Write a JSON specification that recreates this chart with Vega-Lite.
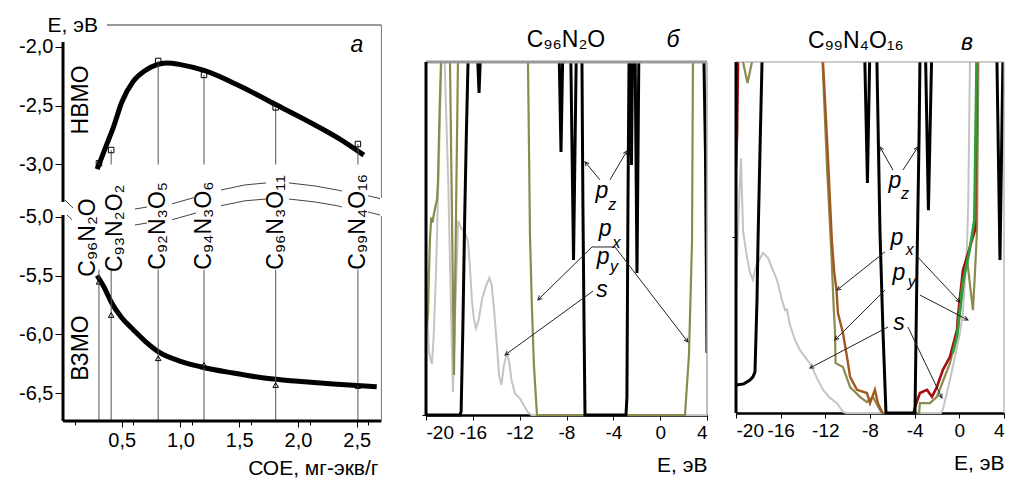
{
"$schema":"https://vega.github.io/schema/vega-lite/v6.json",
"background":"white",
"padding":{"left":18,"top":14,"right":0,"bottom":0},
"bounds":"flush",
"spacing":29,
"config":{
 "view":{"stroke":null},
 "font":"Liberation Sans",
 "locale":{"number":{"decimal":",","thousands":" ","grouping":[3],"currency":["",""],"minus":"-"}},
 "axis":{"grid":false,"labelFont":"Liberation Sans","labelFontSize":19,"labelColor":"#000","titleFont":"Liberation Sans","titleFontSize":21,"titleFontWeight":"normal","titleColor":"#000","tickColor":"#000","domainColor":"#000","labelOverlap":false}
},
"datasets":{
 "comp":[
  {"n":"C₉₆N₂O","coe":0.306,"lumo":-2.99,"homo":-5.553},
  {"n":"C₉₃N₂O₂","coe":0.41,"lumo":-2.877,"homo":-5.836},
  {"n":"C₉₂N₃O₅","coe":0.81,"lumo":-2.119,"homo":-6.204},
  {"n":"C₉₄N₃O₆","coe":1.2,"lumo":-2.238,"homo":-6.261},
  {"n":"C₉₆N₃O₁₁","coe":1.81,"lumo":-2.514,"homo":-6.432},
  {"n":"C₉₉N₄O₁₆","coe":2.51,"lumo":-2.826,"homo":-6.44}
 ],
 "upperCurve":[
  {"x":0.29,"E":-3.04},{"x":0.31,"E":-2.99},{"x":0.36,"E":-2.86},{"x":0.43,"E":-2.68},{"x":0.5,"E":-2.47},{"x":0.6,"E":-2.29},{"x":0.7,"E":-2.2},{"x":0.8,"E":-2.15},{"x":0.88,"E":-2.136},{"x":1.0,"E":-2.15},{"x":1.2,"E":-2.2},{"x":1.5,"E":-2.33},{"x":1.81,"E":-2.49},{"x":2.1,"E":-2.64},{"x":2.35,"E":-2.78},{"x":2.56,"E":-2.92}
 ],
 "lowerCurve":[
  {"x":0.29,"E":-5.5},{"x":0.35,"E":-5.6},{"x":0.41,"E":-5.725},{"x":0.5,"E":-5.86},{"x":0.6,"E":-5.963},{"x":0.7,"E":-6.06},{"x":0.81,"E":-6.148},{"x":1.0,"E":-6.23},{"x":1.17,"E":-6.276},{"x":1.45,"E":-6.33},{"x":1.73,"E":-6.375},{"x":2.0,"E":-6.4},{"x":2.3,"E":-6.423},{"x":2.67,"E":-6.446}
 ],
 "arcs":[
  {"g":"u0","x":0.017,"E":-4.857},{"g":"u0","x":0.085,"E":-4.925},
  {"g":"l0","x":0.034,"E":-4.985},{"g":"l0","x":0.077,"E":-5.025},
  {"g":"u1","x":0.613,"E":-4.934},{"g":"u1","x":0.715,"E":-4.917},
  {"g":"l1","x":0.613,"E":-5.07},{"g":"l1","x":0.715,"E":-5.053},
  {"g":"u2","x":0.928,"E":-4.89},{"g":"u2","x":1.132,"E":-4.832},
  {"g":"l2","x":0.928,"E":-5.025},{"g":"l2","x":1.132,"E":-4.968},
  {"g":"u3","x":1.345,"E":-4.772},{"g":"u3","x":1.549,"E":-4.729},{"g":"u3","x":1.728,"E":-4.712},
  {"g":"l3","x":1.345,"E":-4.906},{"g":"l3","x":1.549,"E":-4.864},{"g":"l3","x":1.728,"E":-4.849},
  {"g":"u4","x":1.923,"E":-4.712},{"g":"u4","x":2.145,"E":-4.738},{"g":"u4","x":2.332,"E":-4.772},{"g":"u4","x":2.374,"E":-4.781},
  {"g":"l4","x":1.923,"E":-4.849},{"g":"l4","x":2.145,"E":-4.874},{"g":"l4","x":2.332,"E":-4.906},{"g":"l4","x":2.374,"E":-4.917},
  {"g":"u5","x":2.596,"E":-4.821},{"g":"u5","x":2.698,"E":-4.845},
  {"g":"l5","x":2.596,"E":-4.959},{"g":"l5","x":2.698,"E":-4.985}
 ],
 "bDos":[
  {"s":"bs","c":"s","E":-20,"v":42},{"s":"bs","c":"s","E":-19.9,"v":30},{"s":"bs","c":"s","E":-19.75,"v":18},{"s":"bs","c":"s","E":-19.6,"v":15.6},{"s":"bs","c":"s","E":-19.49,"v":14.5},{"s":"bs","c":"s","E":-19.35,"v":22},{"s":"bs","c":"s","E":-19.15,"v":40},{"s":"bs","c":"s","E":-18.95,"v":65},{"s":"bs","c":"s","E":-18.75,"v":92},{"s":"bs","c":"s","E":-18.62,"v":106},{"s":"bs","c":"s","E":-18.45,"v":106},{"s":"bs","c":"s","E":-18.3,"v":88},{"s":"bs","c":"s","E":-18.1,"v":66},{"s":"bs","c":"s","E":-17.9,"v":35},{"s":"bs","c":"s","E":-17.7,"v":6.5},{"s":"bs","c":"s","E":-17.5,"v":30},{"s":"bs","c":"s","E":-17.25,"v":55},{"s":"bs","c":"s","E":-17.0,"v":53},{"s":"bs","c":"s","E":-16.6,"v":51},{"s":"bs","c":"s","E":-16.4,"v":49},{"s":"bs","c":"s","E":-16.24,"v":41.6},{"s":"bs","c":"s","E":-16.07,"v":32},{"s":"bs","c":"s","E":-15.9,"v":27},{"s":"bs","c":"s","E":-15.73,"v":24.6},{"s":"bs","c":"s","E":-15.5,"v":27},{"s":"bs","c":"s","E":-15.2,"v":33},{"s":"bs","c":"s","E":-14.88,"v":36.5},{"s":"bs","c":"s","E":-14.6,"v":38.8},{"s":"bs","c":"s","E":-14.4,"v":37},{"s":"bs","c":"s","E":-14.19,"v":30},{"s":"bs","c":"s","E":-13.95,"v":20},{"s":"bs","c":"s","E":-13.75,"v":11},{"s":"bs","c":"s","E":-13.55,"v":8.5},{"s":"bs","c":"s","E":-13.35,"v":14},{"s":"bs","c":"s","E":-13.08,"v":17.6},{"s":"bs","c":"s","E":-12.9,"v":15},{"s":"bs","c":"s","E":-12.7,"v":10},{"s":"bs","c":"s","E":-12.4,"v":6},{"s":"bs","c":"s","E":-12.0,"v":4.8},{"s":"bs","c":"s","E":-11.6,"v":2.5},{"s":"bs","c":"s","E":-11.3,"v":0.8},{"s":"bs","c":"s","E":-11.0,"v":0},{"s":"bs","c":"s","E":4,"v":0},
  {"s":"bo","c":"o","E":-20,"v":24},{"s":"bo","c":"o","E":-19.83,"v":28.3},{"s":"bo","c":"o","E":-19.75,"v":40},{"s":"bo","c":"o","E":-19.66,"v":50},{"s":"bo","c":"o","E":-19.55,"v":56},{"s":"bo","c":"o","E":-19.45,"v":54.5},{"s":"bo","c":"o","E":-19.35,"v":56.5},{"s":"bo","c":"o","E":-19.2,"v":59},{"s":"bo","c":"o","E":-19.06,"v":61},{"s":"bo","c":"o","E":-18.98,"v":66},{"s":"bo","c":"o","E":-18.85,"v":85},{"s":"bo","c":"o","E":-18.72,"v":100},{"s":"bo","c":"o","E":-18.62,"v":106},{"s":"bo","c":"o","E":-18.1,"v":106},{"s":"bo","c":"o","E":-17.95,"v":100},{"s":"bo","c":"o","E":-17.61,"v":11.3},{"s":"bo","c":"o","E":-17.27,"v":100},{"s":"bo","c":"o","E":-17.15,"v":106},{"s":"bo","c":"o","E":-11.4,"v":106},{"s":"bo","c":"o","E":-11.29,"v":100},{"s":"bo","c":"o","E":-11.2,"v":75},{"s":"bo","c":"o","E":-11.12,"v":51},{"s":"bo","c":"o","E":-10.95,"v":30},{"s":"bo","c":"o","E":-10.78,"v":14},{"s":"bo","c":"o","E":-10.52,"v":0},{"s":"bo","c":"o","E":2.12,"v":0},{"s":"bo","c":"o","E":2.46,"v":17},{"s":"bo","c":"o","E":2.72,"v":49},{"s":"bo","c":"o","E":2.8,"v":100},{"s":"bo","c":"o","E":2.88,"v":106},{"s":"bo","c":"o","E":4,"v":106},
  {"s":"bz","c":"pz","E":-20,"v":0},{"s":"bz","c":"pz","E":-17.1,"v":0},{"s":"bz","c":"pz","E":-17.0,"v":1},{"s":"bz","c":"pz","E":-16.85,"v":25},{"s":"bz","c":"pz","E":-16.7,"v":55},{"s":"bz","c":"pz","E":-16.55,"v":80},{"s":"bz","c":"pz","E":-16.41,"v":100},{"s":"bz","c":"pz","E":-16.3,"v":106},{"s":"bz","c":"pz","E":-15.65,"v":106},{"s":"bz","c":"pz","E":-15.47,"v":91.2},{"s":"bz","c":"pz","E":-15.3,"v":106},{"s":"bz","c":"pz","E":-8.65,"v":106},{"s":"bz","c":"pz","E":-8.47,"v":74.5},{"s":"bz","c":"pz","E":-8.3,"v":106},{"s":"bz","c":"pz","E":-7.65,"v":106},{"s":"bz","c":"pz","E":-7.4,"v":43.9},{"s":"bz","c":"pz","E":-7.15,"v":106},{"s":"bz","c":"pz","E":-6.75,"v":106},{"s":"bz","c":"pz","E":-6.68,"v":100},{"s":"bz","c":"pz","E":-6.6,"v":60},{"s":"bz","c":"pz","E":-6.5,"v":25},{"s":"bz","c":"pz","E":-6.42,"v":0},{"s":"bz","c":"pz","E":-2.92,"v":0},{"s":"bz","c":"pz","E":-2.84,"v":5},{"s":"bz","c":"pz","E":-2.75,"v":60},{"s":"bz","c":"pz","E":-2.66,"v":100},{"s":"bz","c":"pz","E":-2.6,"v":106},{"s":"bz","c":"pz","E":-2.55,"v":106},{"s":"bz","c":"pz","E":-2.45,"v":70.8},{"s":"bz","c":"pz","E":-2.35,"v":106},{"s":"bz","c":"pz","E":-2.15,"v":106},{"s":"bz","c":"pz","E":-1.98,"v":40.2},{"s":"bz","c":"pz","E":-1.81,"v":106},{"s":"bz","c":"pz","E":3.72,"v":106},{"s":"bz","c":"pz","E":3.74,"v":100},{"s":"bz","c":"pz","E":3.87,"v":73.7},{"s":"bz","c":"pz","E":4.0,"v":17.6}
 ],
 "cDos":[
  {"s":"cs","c":"s","E":-20,"v":35},{"s":"cs","c":"s","E":-19.85,"v":48.7},{"s":"cs","c":"s","E":-19.7,"v":62},{"s":"cs","c":"s","E":-19.55,"v":72.6},{"s":"cs","c":"s","E":-19.37,"v":52},{"s":"cs","c":"s","E":-19.1,"v":46},{"s":"cs","c":"s","E":-18.75,"v":40},{"s":"cs","c":"s","E":-18.48,"v":37.9},{"s":"cs","c":"s","E":-18.2,"v":42},{"s":"cs","c":"s","E":-17.58,"v":45.6},{"s":"cs","c":"s","E":-17.14,"v":44.2},{"s":"cs","c":"s","E":-16.69,"v":40.7},{"s":"cs","c":"s","E":-16.33,"v":37.9},{"s":"cs","c":"s","E":-15.88,"v":32.2},{"s":"cs","c":"s","E":-15.61,"v":29.3},{"s":"cs","c":"s","E":-15.43,"v":29.5},{"s":"cs","c":"s","E":-15.17,"v":25.1},{"s":"cs","c":"s","E":-14.72,"v":20.8},{"s":"cs","c":"s","E":-14.27,"v":17.9},{"s":"cs","c":"s","E":-13.82,"v":16},{"s":"cs","c":"s","E":-13.38,"v":14.2},{"s":"cs","c":"s","E":-12.75,"v":10},{"s":"cs","c":"s","E":-12.21,"v":6.6},{"s":"cs","c":"s","E":-11.58,"v":4.3},{"s":"cs","c":"s","E":-10.96,"v":2.8},{"s":"cs","c":"s","E":-10.42,"v":0.3},{"s":"cs","c":"s","E":-10.15,"v":0},{"s":"cs","c":"s","E":-1.65,"v":0},{"s":"cs","c":"s","E":-1.47,"v":1},{"s":"cs","c":"s","E":-0.84,"v":9.4},{"s":"cs","c":"s","E":-0.39,"v":16},{"s":"cs","c":"s","E":0.05,"v":22.8},{"s":"cs","c":"s","E":0.32,"v":28.5},{"s":"cs","c":"s","E":0.55,"v":40},{"s":"cs","c":"s","E":0.68,"v":47.3},{"s":"cs","c":"s","E":0.8,"v":60},{"s":"cs","c":"s","E":0.95,"v":100},{"s":"cs","c":"s","E":1.05,"v":106},{"s":"cs","c":"s","E":4,"v":106},
  {"s":"co","c":"o","E":-20,"v":106},{"s":"co","c":"o","E":-19.45,"v":106},{"s":"co","c":"o","E":-19.37,"v":100},{"s":"co","c":"o","E":-18.97,"v":94},{"s":"co","c":"o","E":-18.57,"v":100},{"s":"co","c":"o","E":-18.5,"v":106},{"s":"co","c":"o","E":-12.35,"v":106},{"s":"co","c":"o","E":-12.25,"v":100},{"s":"co","c":"o","E":-11.85,"v":70},{"s":"co","c":"o","E":-11.45,"v":45},{"s":"co","c":"o","E":-11.25,"v":30},{"s":"co","c":"o","E":-11.14,"v":23.6},{"s":"co","c":"o","E":-11.08,"v":14.2},{"s":"co","c":"o","E":-10.42,"v":13.1},{"s":"co","c":"o","E":-9.78,"v":7.4},{"s":"co","c":"o","E":-8.9,"v":4.6},{"s":"co","c":"o","E":-8.28,"v":3.1},{"s":"co","c":"o","E":-7.74,"v":4.6},{"s":"co","c":"o","E":-7.11,"v":0.9},{"s":"co","c":"o","E":-6.9,"v":0},{"s":"co","c":"o","E":-3.6,"v":0},{"s":"co","c":"o","E":-3.53,"v":2.8},{"s":"co","c":"o","E":-2.63,"v":2.8},{"s":"co","c":"o","E":-2.01,"v":4.6},{"s":"co","c":"o","E":-0.84,"v":14.2},{"s":"co","c":"o","E":-0.13,"v":23.6},{"s":"co","c":"o","E":0.5,"v":40},{"s":"co","c":"o","E":0.68,"v":44.5},{"s":"co","c":"o","E":0.9,"v":38},{"s":"co","c":"o","E":1.22,"v":29.3},{"s":"co","c":"o","E":1.4,"v":40},{"s":"co","c":"o","E":1.58,"v":52},{"s":"co","c":"o","E":1.7,"v":100},{"s":"co","c":"o","E":1.8,"v":106},{"s":"co","c":"o","E":4,"v":106},
  {"s":"cb","c":"br","E":-12.4,"v":106},{"s":"cb","c":"br","E":-12.21,"v":100},{"s":"cb","c":"br","E":-11.8,"v":75},{"s":"cb","c":"br","E":-11.41,"v":48.7},{"s":"cb","c":"br","E":-11.2,"v":40},{"s":"cb","c":"br","E":-11.0,"v":35},{"s":"cb","c":"br","E":-10.87,"v":28.5},{"s":"cb","c":"br","E":-10.42,"v":22.8},{"s":"cb","c":"br","E":-10.06,"v":16},{"s":"cb","c":"br","E":-9.78,"v":10.3},{"s":"cb","c":"br","E":-9.17,"v":6.6},{"s":"cb","c":"br","E":-8.28,"v":5.7},{"s":"cb","c":"br","E":-8.0,"v":2.8},{"s":"cb","c":"br","E":-7.56,"v":6.6},{"s":"cb","c":"br","E":-7.29,"v":2.8},{"s":"cb","c":"br","E":-6.93,"v":0.3},{"s":"cb","c":"br","E":-6.85,"v":0},
  {"s":"cr0","c":"r","E":-20,"v":70},{"s":"cr0","c":"r","E":-19.9,"v":80.6},{"s":"cr0","c":"r","E":-19.82,"v":100},{"s":"cr0","c":"r","E":-19.75,"v":106},
  {"s":"cr","c":"r","E":-4.1,"v":0},{"s":"cr","c":"r","E":-3.97,"v":1.7},{"s":"cr","c":"r","E":-3.53,"v":5.7},{"s":"cr","c":"r","E":-2.9,"v":6.6},{"s":"cr","c":"r","E":-2.45,"v":4.6},{"s":"cr","c":"r","E":-2.01,"v":7.4},{"s":"cr","c":"r","E":-1.47,"v":12.3},{"s":"cr","c":"r","E":-0.84,"v":16},{"s":"cr","c":"r","E":-0.21,"v":23.6},{"s":"cr","c":"r","E":-0.13,"v":27.4},{"s":"cr","c":"r","E":0.32,"v":40.7},{"s":"cr","c":"r","E":0.95,"v":47.3},{"s":"cr","c":"r","E":1.4,"v":52.1},{"s":"cr","c":"r","E":1.58,"v":100},{"s":"cr","c":"r","E":1.65,"v":106},{"s":"cr","c":"r","E":4,"v":106},
  {"s":"cg","c":"g","E":-0.6,"v":17},{"s":"cg","c":"g","E":-0.2,"v":22},{"s":"cg","c":"g","E":0.3,"v":37},{"s":"cg","c":"g","E":0.9,"v":46},{"s":"cg","c":"g","E":1.35,"v":55},{"s":"cg","c":"g","E":1.55,"v":100},{"s":"cg","c":"g","E":1.6,"v":106},
  {"s":"cz","c":"pz","E":-20,"v":8},{"s":"cz","c":"pz","E":-19.3,"v":8.3},{"s":"cz","c":"pz","E":-18.75,"v":9.4},{"s":"cz","c":"pz","E":-18.48,"v":10.3},{"s":"cz","c":"pz","E":-18.3,"v":11.7},{"s":"cz","c":"pz","E":-18.12,"v":32.2},{"s":"cz","c":"pz","E":-18.03,"v":48.7},{"s":"cz","c":"pz","E":-17.85,"v":75},{"s":"cz","c":"pz","E":-17.67,"v":100},{"s":"cz","c":"pz","E":-17.6,"v":106},{"s":"cz","c":"pz","E":-8.5,"v":106},{"s":"cz","c":"pz","E":-8.23,"v":65.5},{"s":"cz","c":"pz","E":-8.0,"v":106},{"s":"cz","c":"pz","E":-7.45,"v":106},{"s":"cz","c":"pz","E":-7.38,"v":100},{"s":"cz","c":"pz","E":-7.11,"v":52.1},{"s":"cz","c":"pz","E":-6.84,"v":23.6},{"s":"cz","c":"pz","E":-6.57,"v":0},{"s":"cz","c":"pz","E":-3.97,"v":0},{"s":"cz","c":"pz","E":-3.8,"v":40},{"s":"cz","c":"pz","E":-3.6,"v":80},{"s":"cz","c":"pz","E":-3.53,"v":100},{"s":"cz","c":"pz","E":-3.45,"v":106},{"s":"cz","c":"pz","E":-3.05,"v":106},{"s":"cz","c":"pz","E":-2.77,"v":57.8},{"s":"cz","c":"pz","E":-2.45,"v":106},{"s":"cz","c":"pz","E":3.3,"v":106},{"s":"cz","c":"pz","E":3.37,"v":100},{"s":"cz","c":"pz","E":3.64,"v":43.6},{"s":"cz","c":"pz","E":3.9,"v":100},{"s":"cz","c":"pz","E":4.0,"v":106}
 ],
 "bArrows":[
  {"E1":-5.14,"v1":66.6,"E2":-6.42,"v2":71.7,"ang":320},
  {"E1":-4.29,"v1":66.6,"E2":-2.84,"v2":74.8,"ang":30},
  {"E1":-5.82,"v1":47.6,"E2":-3.86,"v2":47.6,"ang":null},
  {"E1":-5.82,"v1":47.6,"E2":-10.44,"v2":32.6,"ang":225},
  {"E1":-3.86,"v1":47.6,"E2":2.37,"v2":20.7,"ang":142},
  {"E1":-5.74,"v1":35.1,"E2":-13.25,"v2":17.0,"ang":234}
 ],
 "cArrows":[
  {"E1":-5.94,"v1":69.2,"E2":-7.11,"v2":75.8,"ang":330},
  {"E1":-5.05,"v1":69.2,"E2":-3.71,"v2":75.8,"ang":33},
  {"E1":-6.66,"v1":45.9,"E2":-10.96,"v2":35.0,"ang":232},
  {"E1":-3.89,"v1":45.0,"E2":0.05,"v2":31.6,"ang":137},
  {"E1":-6.66,"v1":35.0,"E2":-11.14,"v2":20.8,"ang":225},
  {"E1":-3.53,"v1":33.6,"E2":0.77,"v2":26.5,"ang":117},
  {"E1":-6.39,"v1":24.5,"E2":-13.38,"v2":12.8,"ang":242},
  {"E1":-4.6,"v1":24.5,"E2":-1.56,"v2":4.3,"ang":154}
 ],
 "bText":[
  {"t":"p","k":"m","E":-4.97,"v":61.5},{"t":"z","k":"s","E":-4.1,"v":58.1},
  {"t":"p","k":"m","E":-4.71,"v":50.6},{"t":"x","k":"s","E":-3.72,"v":47.4},
  {"t":"p","k":"m","E":-4.88,"v":42.8},{"t":"y","k":"s","E":-3.95,"v":40.6},
  {"t":"s","k":"m","E":-4.97,"v":33.4}
 ],
 "cText":[
  {"t":"p","k":"m","E":-5.77,"v":64.1},{"t":"z","k":"s","E":-4.86,"v":61.0},
  {"t":"p","k":"m","E":-5.59,"v":47.9},{"t":"x","k":"s","E":-4.45,"v":45.0},
  {"t":"p","k":"m","E":-5.41,"v":37.9},{"t":"y","k":"s","E":-4.27,"v":35.9},
  {"t":"s","k":"m","E":-5.41,"v":23.6}
 ]
},
"hconcat":[
 {
  "width":334,"height":396,
  "resolve":{"scale":{"y":"independent"},"axis":{"y":"independent","x":"independent"}},
  "layer":[
   {"layer":[
    {"data":{"name":"upperCurve"},"mark":{"type":"line","color":"#000","strokeWidth":5,"interpolate":"monotone","strokeCap":"butt"},
     "encoding":{
      "x":{"field":"x","type":"quantitative","scale":{"domain":[0,2.8426],"nice":false,"zero":false},
           "axis":{"orient":"bottom","values":[0.1,0.2,0.3,0.4,0.6,0.7,0.8,0.9,1.1,1.2,1.3,1.4,1.6,1.7,1.8,1.9,2.1,2.2,2.3,2.4,2.6,2.7],"labels":false,"domain":false,"tickSize":4,"title":null}},
      "y":{"field":"E","type":"quantitative","scale":{"domain":[-5.183,-1.813],"nice":false,"zero":false},
           "axis":{"orient":"left","values":[-2,-2.5,-3],"format":".1f","domain":false,"tickSize":8,"labelPadding":2,"labelFontSize":20,"title":"E, эВ","titleAngle":0,"titleAlign":"left","titleBaseline":"middle","titleX":-16,"titleY":0,"titleFontSize":21}}
     }},
    {"data":{"name":"comp"},"mark":{"type":"rule","color":"#555","strokeWidth":1},
     "encoding":{"x":{"field":"coe","type":"quantitative"},"y":{"field":"lumo","type":"quantitative"},"y2":{"datum":-3.0}}},
    {"data":{"name":"comp"},"mark":{"type":"point","shape":"square","filled":false,"size":30,"color":"#000","strokeWidth":1,"opacity":1},
     "encoding":{"x":{"field":"coe","type":"quantitative"},"y":{"field":"lumo","type":"quantitative"}}},
    {"data":{"values":[{}]},"mark":{"type":"text","text":"НВМО","angle":270,"fontSize":23,"align":"center","baseline":"middle"},
     "encoding":{"x":{"datum":0.153},"y":{"datum":-2.451}}},
    {"data":{"values":[{}]},"mark":{"type":"text","text":"а","fontStyle":"italic","fontSize":23,"align":"center","baseline":"middle"},
     "encoding":{"x":{"datum":2.502},"y":{"datum":-1.983}}},
    {"data":{"values":[{}]},"mark":{"type":"rule","color":"#333","strokeWidth":1},
     "encoding":{"x":{"datum":0.374},"x2":{"datum":2.71},"y":{"datum":-1.813}}},
    {"data":{"values":[{}]},"mark":{"type":"rule","color":"#777","strokeWidth":1},
     "encoding":{"x":{"datum":2.71},"y":{"datum":-1.813},"y2":{"datum":-3.285}}},
    {"data":{"values":[{}]},"mark":{"type":"rule","color":"#000","strokeWidth":3},
     "encoding":{"x":{"datum":0},"y":{"datum":-1.958},"y2":{"datum":-3.319}}}
   ]},
   {"layer":[
    {"data":{"name":"lowerCurve"},"mark":{"type":"line","color":"#000","strokeWidth":5,"interpolate":"monotone","strokeCap":"butt"},
     "encoding":{
      "x":{"field":"x","type":"quantitative","scale":{"domain":[0,2.8426],"nice":false,"zero":false},
           "axis":{"orient":"bottom","values":[0.5,1,1.5,2,2.5],"format":".1f","domain":false,"tickSize":6,"labelPadding":3,"labelFontSize":20,"title":"СОЕ, мг-экв/г","titleX":315,"titleY":47,"titleAlign":"right","titleBaseline":"middle","titleFontSize":21}},
      "y":{"field":"E","type":"quantitative","scale":{"domain":[-6.738,-3.368],"nice":false,"zero":false},
           "axis":{"orient":"left","values":[-5,-5.5,-6,-6.5],"format":".1f","domain":false,"tickSize":8,"labelPadding":2,"labelFontSize":20,"title":null}}
     }},
    {"data":{"name":"comp"},"mark":{"type":"rule","color":"#555","strokeWidth":1},
     "encoding":{"x":{"field":"coe","type":"quantitative"},"y":{"datum":-5.45},"y2":{"datum":-6.738}}},
    {"data":{"name":"comp"},"mark":{"type":"point","shape":"triangle-up","filled":false,"size":30,"color":"#000","strokeWidth":1,"opacity":1},
     "encoding":{"x":{"field":"coe","type":"quantitative"},"y":{"field":"homo","type":"quantitative"}}},
    {"data":{"name":"comp"},"transform":[{"filter":"datum.coe > 0.5"}],
     "mark":{"type":"text","angle":270,"fontSize":23,"align":"left","baseline":"middle"},
     "encoding":{"x":{"field":"coe","type":"quantitative"},"y":{"datum":-5.45},"text":{"field":"n"}}},
    {"data":{"name":"comp"},"transform":[{"filter":"datum.coe < 0.35"}],
     "mark":{"type":"text","angle":270,"fontSize":23,"align":"left","baseline":"middle","dy":-11},
     "encoding":{"x":{"field":"coe","type":"quantitative"},"y":{"datum":-5.51},"text":{"field":"n"}}},
    {"data":{"name":"comp"},"transform":[{"filter":"datum.coe > 0.35 && datum.coe < 0.5"}],
     "mark":{"type":"text","angle":270,"fontSize":23,"align":"left","baseline":"middle","dy":4},
     "encoding":{"x":{"field":"coe","type":"quantitative"},"y":{"datum":-5.47},"text":{"field":"n"}}},
    {"data":{"values":[{}]},"mark":{"type":"text","text":"ВЗМО","angle":270,"fontSize":23,"align":"center","baseline":"middle"},
     "encoding":{"x":{"datum":0.153},"y":{"datum":-6.117}}},
    {"data":{"name":"arcs"},"mark":{"type":"line","color":"#444","strokeWidth":1},
     "encoding":{"x":{"field":"x","type":"quantitative"},"y":{"field":"E","type":"quantitative"},"detail":{"field":"g"}}},
    {"data":{"values":[{}]},"mark":{"type":"rule","color":"#000","strokeWidth":3},
     "encoding":{"x":{"datum":0},"x2":{"datum":2.71},"y":{"datum":-6.738}}},
    {"data":{"values":[{}]},"mark":{"type":"rule","color":"#777","strokeWidth":1},
     "encoding":{"x":{"datum":2.71},"y":{"datum":-4.993},"y2":{"datum":-6.738}}},
    {"data":{"values":[{}]},"mark":{"type":"rule","color":"#000","strokeWidth":3},
     "encoding":{"x":{"datum":0},"y":{"datum":-4.985},"y2":{"datum":-6.738}}}
   ]}
  ]
 },
 {
  "width":281,"height":396,
  "layer":[
   {"data":{"name":"bDos"},"mark":{"type":"line","clip":true,"strokeCap":"butt"},
    "encoding":{
     "x":{"field":"E","type":"quantitative","scale":{"domain":[-20,4],"nice":false,"zero":false},
          "axis":{"values":[-20,-18,-16,-14,-12,-10,-8,-6,-4,-2,0,2,4],"labelExpr":"datum.value % 4 == 0 ? datum.label : ''","format":"d","tickSize":5,"domainWidth":2.5,"offset":-6,"labelPadding":3,"title":"E, эВ","titleX":281,"titleY":50,"titleAlign":"right","titleBaseline":"middle"}},
     "y":{"field":"v","type":"quantitative","scale":{"domain":[-1.7,110.48],"nice":false,"zero":false},
          "axis":{"values":[0],"labels":false,"domain":false,"tickSize":4,"title":null}},
     "color":{"field":"c","type":"nominal","scale":{"domain":["s","o","br","r","g","pz"],"range":["#c4c4c4","#8b8a4f","#a3561f","#a80d0d","#2e9e3a","#000000"]},"legend":null},
     "strokeWidth":{"field":"c","type":"nominal","scale":{"domain":["s","o","br","r","g","pz"],"range":[2,3,2.5,2.2,1.5,1.5]},"legend":null},
     "detail":{"field":"s"}
    }},
   {"data":{"values":[{}]},"mark":{"type":"rect","color":"white"},
    "encoding":{"x":{"datum":-20},"x2":{"datum":4},"y":{"datum":100},"y2":{"datum":110.48}}},
   {"data":{"values":[{}]},"mark":{"type":"rule","color":"#999","strokeWidth":3},
    "encoding":{"x":{"datum":-20},"x2":{"datum":4},"y":{"datum":100}}},
   {"data":{"values":[{}]},"mark":{"type":"rule","color":"#aaa","strokeWidth":1.5},
    "encoding":{"x":{"datum":4},"y":{"datum":0},"y2":{"datum":100}}},
   {"data":{"values":[{}]},"mark":{"type":"rule","color":"#000","strokeWidth":3},
    "encoding":{"x":{"datum":-20},"y":{"datum":0},"y2":{"datum":100}}},
   {"data":{"name":"bArrows"},"mark":{"type":"rule","color":"#222","strokeWidth":1},
    "encoding":{"x":{"field":"E1","type":"quantitative"},"y":{"field":"v1","type":"quantitative"},"x2":{"field":"E2"},"y2":{"field":"v2"}}},
   {"data":{"name":"bArrows"},"transform":[{"filter":"isValid(datum.ang)"}],
    "mark":{"type":"point","shape":"M-0.5,1L0,0L0.5,1","filled":false,"size":64,"strokeWidth":1,"color":"#222","opacity":1},
    "encoding":{"x":{"field":"E2","type":"quantitative"},"y":{"field":"v2","type":"quantitative"},"angle":{"field":"ang","type":"quantitative","scale":null}}},
   {"data":{"name":"bText"},"mark":{"type":"text","fontStyle":"italic","align":"center","baseline":"alphabetic"},
    "encoding":{"x":{"field":"E","type":"quantitative"},"y":{"field":"v","type":"quantitative"},"text":{"field":"t"},"size":{"field":"k","type":"nominal","scale":{"domain":["m","s"],"range":[23,16]},"legend":null}}},
   {"data":{"values":[{}]},"mark":{"type":"text","text":"C₉₆N₂O","fontSize":23,"align":"center","baseline":"middle"},
    "encoding":{"x":{"datum":-8.04},"y":{"datum":106.2}}},
   {"data":{"values":[{}]},"mark":{"type":"text","text":"б","fontStyle":"italic","fontSize":23,"align":"center","baseline":"middle"},
    "encoding":{"x":{"datum":1.09},"y":{"datum":106.2}}}
  ]
 },
 {
  "width":268,"height":396,
  "layer":[
   {"data":{"name":"cDos"},"mark":{"type":"line","clip":true,"strokeCap":"butt"},
    "encoding":{
     "x":{"field":"E","type":"quantitative","scale":{"domain":[-20,4],"nice":false,"zero":false},
          "axis":{"values":[-20,-18,-16,-14,-12,-10,-8,-6,-4,-2,0,2,4],"labelExpr":"datum.value % 4 == 0 ? datum.label : ''","format":"d","tickSize":5,"domainWidth":2.5,"offset":-8,"labelPadding":3,"title":"E, эВ","titleX":268,"titleY":50,"titleAlign":"right","titleBaseline":"middle"}},
     "y":{"field":"v","type":"quantitative","scale":{"domain":[-2.28,110.54],"nice":false,"zero":false},
          "axis":{"values":[50],"labels":false,"domain":false,"tickSize":4,"title":null}},
     "color":{"field":"c","type":"nominal","scale":{"domain":["s","o","br","r","g","pz"],"range":["#c4c4c4","#8b8a4f","#a3561f","#a80d0d","#2e9e3a","#000000"]},"legend":null},
     "strokeWidth":{"field":"c","type":"nominal","scale":{"domain":["s","o","br","r","g","pz"],"range":[2,3,2.5,2.2,1.5,1.5]},"legend":null},
     "detail":{"field":"s"}
    }},
   {"data":{"values":[{}]},"mark":{"type":"rect","color":"white"},
    "encoding":{"x":{"datum":-20},"x2":{"datum":4},"y":{"datum":100},"y2":{"datum":110.54}}},
   {"data":{"values":[{}]},"mark":{"type":"rule","color":"#999","strokeWidth":1.2},
    "encoding":{"x":{"datum":-20},"x2":{"datum":4},"y":{"datum":100}}},
   {"data":{"values":[{}]},"mark":{"type":"rule","color":"#aaa","strokeWidth":1.2},
    "encoding":{"x":{"datum":4},"y":{"datum":0},"y2":{"datum":100}}},
   {"data":{"values":[{}]},"mark":{"type":"rule","color":"#000","strokeWidth":3},
    "encoding":{"x":{"datum":-20},"y":{"datum":0},"y2":{"datum":100}}},
   {"data":{"name":"cArrows"},"mark":{"type":"rule","color":"#222","strokeWidth":1},
    "encoding":{"x":{"field":"E1","type":"quantitative"},"y":{"field":"v1","type":"quantitative"},"x2":{"field":"E2"},"y2":{"field":"v2"}}},
   {"data":{"name":"cArrows"},"transform":[{"filter":"isValid(datum.ang)"}],
    "mark":{"type":"point","shape":"M-0.5,1L0,0L0.5,1","filled":false,"size":64,"strokeWidth":1,"color":"#222","opacity":1},
    "encoding":{"x":{"field":"E2","type":"quantitative"},"y":{"field":"v2","type":"quantitative"},"angle":{"field":"ang","type":"quantitative","scale":null}}},
   {"data":{"name":"cText"},"mark":{"type":"text","fontStyle":"italic","align":"center","baseline":"alphabetic"},
    "encoding":{"x":{"field":"E","type":"quantitative"},"y":{"field":"v","type":"quantitative"},"text":{"field":"t"},"size":{"field":"k","type":"nominal","scale":{"domain":["m","s"],"range":[23,16]},"legend":null}}},
   {"data":{"values":[{}]},"mark":{"type":"text","text":"C₉₉N₄O₁₆","fontSize":23,"align":"center","baseline":"middle"},
    "encoding":{"x":{"datum":-9.26},"y":{"datum":106.0}}},
   {"data":{"values":[{}]},"mark":{"type":"text","text":"в","fontStyle":"italic","fontSize":23,"align":"center","baseline":"middle"},
    "encoding":{"x":{"datum":0.68},"y":{"datum":105.4}}}
  ]
 }
]
}
